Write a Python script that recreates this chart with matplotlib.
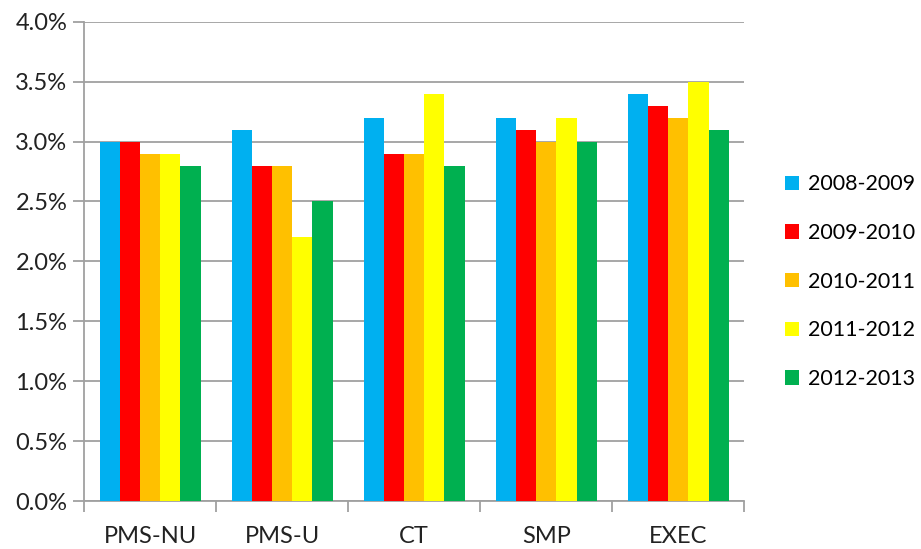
import matplotlib; matplotlib.use('agg')
import matplotlib.pyplot as plt
import numpy as np
from matplotlib.ticker import FuncFormatter

plt.rcParams['font.family'] = ['Lato', 'DejaVu Sans']

categories = ['PMS-NU', 'PMS-U', 'CT', 'SMP', 'EXEC']
years = ['2008-2009', '2009-2010', '2010-2011', '2011-2012', '2012-2013']
colors = ['#00B0F0', '#FF0000', '#FFC000', '#FFFF00', '#00B050']
v0809 = [3.0, 3.1, 3.2, 3.2, 3.4]
v0910 = [3.0, 2.8, 2.9, 3.1, 3.3]
v1011 = [2.9, 2.8, 2.9, 3.0, 3.2]
v1112 = [2.9, 2.2, 3.4, 3.2, 3.5]
v1213 = [2.8, 2.5, 2.8, 3.0, 3.1]
series = [v0809, v0910, v1011, v1112, v1213]

fig = plt.figure(figsize=(9.21, 5.49), dpi=100)
ax = fig.add_axes([0.0912, 0.0874, 0.717, 0.873])

x = np.arange(len(categories))
w = 0.153
for i, (vals, lab, c) in enumerate(zip(series, years, colors)):
    ax.bar(x + (i - 2) * w, vals, w, color=c, label=lab, zorder=3)

ax.set_xlim(-0.5, len(categories) - 0.5)
ax.set_ylim(0, 4.0)
ax.set_yticks(np.arange(0, 4.01, 0.5))
ax.yaxis.set_major_formatter(FuncFormatter(lambda v, p: '%.1f%%' % v))
ax.grid(axis='y', color='#A0A0A0', linewidth=1.3, zorder=0)

ax.set_xticks(x)
ax.set_xticklabels(categories)
ax.set_xticks(np.arange(-0.5, len(categories), 1), minor=True)
ax.tick_params(axis='x', which='major', length=0, pad=18, labelsize=17, colors='#222222')
ax.tick_params(axis='x', which='minor', length=8, width=1.3, color='#A0A0A0')
ax.tick_params(axis='y', length=8, width=1.3, color='#A0A0A0', labelsize=17, pad=4, labelcolor='#222222')

for s in ['top', 'right']:
    ax.spines[s].set_visible(False)
for s in ['left', 'bottom']:
    ax.spines[s].set_color('#A0A0A0')
    ax.spines[s].set_linewidth(1.3)

fig.legend(loc='center left', bbox_to_anchor=(0.852, 0.487), frameon=False,
           fontsize=15.5, handlelength=0.65, handleheight=0.65, handletextpad=0.45,
           labelspacing=1.33, borderaxespad=0, borderpad=0)

plt.savefig('out.png', dpi=100)
